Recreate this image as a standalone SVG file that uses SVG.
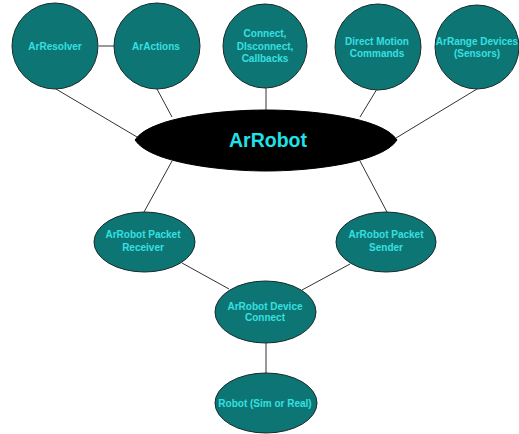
<svg xmlns="http://www.w3.org/2000/svg" width="519" height="434" viewBox="0 0 519 434">
<style>
.n{fill:#0e7575;stroke:#1a2a2a;stroke-width:1}
.t{font-family:"Liberation Sans",Arial,sans-serif;font-weight:bold;font-size:10px;fill:#35e0e0;text-anchor:middle}
.c line{stroke:#333;stroke-width:1}
</style>
<rect width="519" height="434" fill="#fff"/>
<g class="c" id="connectors">
<line x1="99" y1="46" x2="114" y2="46"/>
<line x1="56" y1="89" x2="137" y2="137"/>
<line x1="157" y1="89" x2="172" y2="117"/>
<line x1="266" y1="88" x2="266" y2="110"/>
<line x1="377" y1="89" x2="360" y2="117"/>
<line x1="477" y1="89" x2="396" y2="138"/>
<line x1="172" y1="161" x2="144" y2="212"/>
<line x1="360" y1="161" x2="387" y2="212"/>
<line x1="182" y1="263" x2="229" y2="289"/>
<line x1="350" y1="264" x2="302" y2="290"/>
<line x1="266" y1="343" x2="266" y2="373"/>
</g>
<g id="arresolver"><circle class="n" cx="55" cy="46" r="43"/><text class="t" x="55" y="50">ArResolver</text></g>
<g id="aractions"><circle class="n" cx="157" cy="46" r="43"/><text class="t" x="156" y="50">ArActions</text></g>
<g id="connect"><circle class="n" cx="265" cy="46" r="42"/><text class="t" x="265" y="37">Connect,</text><text class="t" x="265" y="50">DIsconnect,</text><text class="t" x="265" y="62">Callbacks</text></g>
<g id="directmotion"><circle class="n" cx="378" cy="47" r="43"/><text class="t" x="377" y="45">Direct Motion</text><text class="t" x="377" y="57">Commands</text></g>
<g id="arrange"><circle class="n" cx="477" cy="47" r="42"/><text class="t" x="477" y="45">ArRange Devices</text><text class="t" x="477" y="57">(Sensors)</text></g>
<g id="arrobot"><path d="M135,140 C150,117 222,110 266,110 C310,110 382,117 397,140 C382,163 310,171 266,171 C222,171 150,163 135,140Z" fill="#000" stroke="#000"/><text x="268" y="147" font-family="'Liberation Sans',Arial,sans-serif" font-weight="bold" font-size="19.5" fill="#22e0e8" text-anchor="middle">ArRobot</text></g>
<g id="receiver"><ellipse class="n" cx="144.5" cy="242" rx="50.5" ry="30"/><text class="t" x="143" y="238">ArRobot Packet</text><text class="t" x="143" y="251">Receiver</text></g>
<g id="sender"><ellipse class="n" cx="386" cy="242" rx="50" ry="30"/><text class="t" x="386" y="238">ArRobot Packet</text><text class="t" x="386" y="251">Sender</text></g>
<g id="deviceconnect"><ellipse class="n" cx="265.5" cy="312" rx="50.5" ry="31"/><text class="t" x="265" y="310">ArRobot Device</text><text class="t" x="265" y="321">Connect</text></g>
<g id="robot"><ellipse class="n" cx="266" cy="403" rx="51" ry="30"/><text class="t" x="265" y="407">Robot (Sim or Real)</text></g>
</svg>
